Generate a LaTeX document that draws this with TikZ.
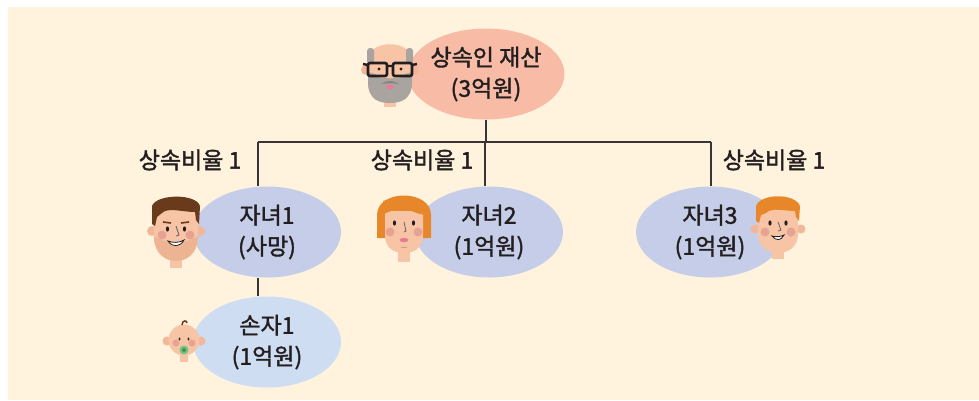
\documentclass[tikz,border=0pt]{standalone}
\usepackage{fontspec}
\setmainfont{Noto Sans CJK KR}[FakeBold=1.6]
\usetikzlibrary{shapes.geometric}

\definecolor{paper}{HTML}{FFF3DE}
\definecolor{rootfill}{HTML}{F7BBA6}
\definecolor{kidfill}{HTML}{C5CDE8}
\definecolor{grandfill}{HTML}{CEDDF1}
\definecolor{ink}{HTML}{231F20}
\definecolor{skin}{HTML}{F7C4A5}
\definecolor{earskin}{HTML}{F2B699}
\definecolor{cheek}{HTML}{E6A393}
\definecolor{stubble}{HTML}{EDB494}
\definecolor{brownhair}{HTML}{6A3A1C}
\definecolor{orangehair}{HTML}{E8862A}
\definecolor{grayhair}{HTML}{A9A4A0}
\definecolor{lip}{HTML}{EC7A92}
\definecolor{soother}{HTML}{6FC47F}

\begin{document}
\begin{tikzpicture}[x=1pt,y=-1pt,
    bubble/.style={ellipse, minimum width=148pt, minimum height=91pt, inner sep=0pt,
        align=center, text=ink, font=\fontsize{23}{31}\selectfont},
    share/.style={text=ink, font=\fontsize{23}{25}\selectfont},
    link/.style={draw=ink!90, line width=1.2pt}]
    \useasboundingbox (0,0) rectangle (979,400);
    \fill[paper] (8,7) rectangle (979,400);

    % family members
    \node[bubble, fill=rootfill] (root) at (486,74) {상속인 재산\\(3억원)};
    \node[bubble, fill=kidfill] (ch1) at (267,232) {자녀1\\(사망)};
    \node[bubble, fill=kidfill] (ch2) at (489,232) {자녀2\\(1억원)};
    \node[bubble, fill=kidfill] (ch3) at (710,232) {자녀3\\(1억원)};
    \node[bubble, fill=grandfill] (gc1) at (267,342) {손자1\\(1억원)};

    \node[share] (r1) at (190,160) {상속비율 1};
    \node[share] (r2) at (422,160) {상속비율 1};
    \node[share] (r3) at (774,160) {상속비율 1};

    % tree lines
    \coordinate (bus) at (486,142);
    \coordinate (d1) at (258,142);
    \coordinate (d2) at (485,142);
    \coordinate (d3) at (711,142);
    \draw[link] (root.south) -- (root.south |- bus);
    \draw[link] (d1) -- (d3);
    \draw[link] (d1) -- (d1 |- ch1.north);
    \draw[link] (d2) -- (d2 |- ch2.north);
    \draw[link] (d3) -- (d3 |- ch3.north);
    \draw[link] (d1 |- ch1.south) -- (d1 |- gc1.north);

    % grandfather
    \begin{scope}[shift={(390,72)}]
        \fill[skin] (-6,24) rectangle (6,35);
        \fill[earskin] (-24,-2) circle (5); \fill[earskin] (24,-2) circle (5);
        \fill[skin] (-22,0) -- (-22,-12) .. controls (-22,-33) and (22,-33) .. (22,-12) -- (22,10)
            .. controls (22,28) and (10,31) .. (0,31) .. controls (-10,31) and (-22,28) .. (-22,10) -- cycle;
        \fill[grayhair, rounded corners=3pt] (-23,-24) rectangle (-16,-8);
        \fill[grayhair, rounded corners=3pt] (16,-24) rectangle (23,-8);
        \fill[grayhair] (-22,0) -- (-22,10) .. controls (-22,28) and (-10,31) .. (0,31)
            .. controls (10,31) and (22,28) .. (22,10) -- (22,0) -- (15,2)
            .. controls (10,8) and (4,6) .. (0,6) .. controls (-4,6) and (-10,8) .. (-15,2) -- cycle;
        \fill[skin] (-4,2) -- (0,7) -- (4,2) -- cycle;
        \fill[lip] (0,15) ellipse (4 and 2);
        \fill[grayhair!80!black] (-9,12) .. controls (-4,8) and (4,8) .. (9,12) .. controls (4,11) and (-4,11) .. cycle;
        \fill[ink] (-11,-3) circle (1.6); \fill[ink] (11,-3) circle (1.6);
        \draw[ink, line width=2.6pt, rounded corners=2pt] (-22,-9) rectangle (-3,4);
        \draw[ink, line width=2.6pt, rounded corners=2pt] (3,-9) rectangle (22,4);
        \draw[ink, line width=2.4pt] (-3,-6) -- (3,-6) (-22,-7) -- (-27,-8) (22,-7) -- (27,-8);
    \end{scope}

    % first child
    \begin{scope}[shift={(176,228)}]
        \fill[skin] (-6,22) rectangle (6,40);
        \fill[earskin] (-24,3) circle (5); \fill[earskin] (24,3) circle (5);
        \fill[skin] (-22,-14) -- (-22,10) .. controls (-22,26) and (-10,33) .. (0,33)
            .. controls (10,33) and (22,26) .. (22,10) -- (22,-14) .. controls (22,-30) and (-22,-30) .. cycle;
        \fill[stubble] (-22,8) .. controls (-21,26) and (-10,33) .. (0,33) .. controls (10,33) and (21,26) .. (22,8)
            .. controls (12,16) and (-12,16) .. cycle;
        \fill[brownhair] (-24,-4) -- (-24,-22) .. controls (-20,-34) and (20,-35) .. (24,-22) -- (23,-4)
            -- (20,-8) -- (19,-16) .. controls (6,-16) and (-8,-21) .. (-14,-15) -- (-19,-11) -- (-21,-2) -- cycle;
        \draw[brownhair, line width=1.6pt] (-13,-6) -- (-5,-5) (5,-5) -- (13,-6);
        \fill[cheek] (-14,7) circle (4.5); \fill[cheek] (14,7) circle (4.5);
        \fill[ink] (-8.5,1) ellipse (1.6 and 2.6); \fill[ink] (8.5,1) ellipse (1.6 and 2.6);
        \draw[ink!70, line width=0.8pt] (0,-2) -- (3,7) -- (0,8);
        \fill[white, draw=ink, line width=0.8pt] (-8,13) .. controls (-3,20) and (4,19) .. (8,12)
            .. controls (3,15) and (-3,15) .. cycle;
    \end{scope}

    % second child
    \begin{scope}[shift={(404,225)}]
        \fill[orangehair] (-27,-10) .. controls (-27,-36) and (27,-36) .. (27,-10) -- (27,13) -- (-27,13) -- cycle;
        \fill[skin] (-6,20) rectangle (6,37);
        \fill[skin] (-19,-14) -- (-19,10) .. controls (-19,24) and (-9,28) .. (0,28)
            .. controls (9,28) and (19,24) .. (19,10) -- (19,-14) -- cycle;
        \fill[orangehair] (-21,-24) .. controls (-10,-28) and (10,-28) .. (21,-22) -- (21,-10)
            .. controls (10,-12) and (2,-16) .. (-3,-21) .. controls (-8,-16) and (-14,-13) .. (-21,-11) -- cycle;
        \fill[cheek] (-14,7) circle (4.5); \fill[cheek] (14,7) circle (4.5);
        \fill[ink] (-9.5,-2) ellipse (1.6 and 2.6); \fill[ink] (9.5,-2) ellipse (1.6 and 2.6);
        \draw[ink!70, line width=0.8pt] (0,-3) -- (2,6) -- (0,7);
        \fill[lip] (0,15) ellipse (4.5 and 2.2);
        \draw[earskin!80!black, line width=0.6pt] (-3,22) .. controls (-1,23) and (1,23) .. (3,22);
    \end{scope}

    % third child
    \begin{scope}[shift={(778,226)}]
        \fill[skin] (-6,20) rectangle (6,33);
        \fill[earskin] (-23,3) circle (4.5); \fill[earskin] (23,3) circle (4.5);
        \fill[skin] (-20,-12) -- (-20,8) .. controls (-20,22) and (-9,27) .. (0,27)
            .. controls (9,27) and (20,22) .. (20,8) -- (20,-12) .. controls (20,-28) and (-20,-28) .. cycle;
        \fill[orangehair] (-22,-5) -- (-22,-20) .. controls (-17,-33) and (17,-33) .. (22,-20) -- (21,-5)
            -- (18,-9) -- (17,-15) .. controls (6,-15) and (-6,-19) .. (-12,-13) -- (-17,-11) -- (-19,-3) -- cycle;
        \fill[cheek] (-13,6) circle (4.5); \fill[cheek] (13,6) circle (4.5);
        \fill[ink] (-8,-3) ellipse (1.6 and 2.6); \fill[ink] (8,-3) ellipse (1.6 and 2.6);
        \draw[ink!70, line width=0.8pt] (0,-4) -- (3,4) -- (0,5);
        \fill[white, draw=ink, line width=0.8pt] (-6,10) .. controls (-2,15) and (3,15) .. (6,9)
            .. controls (2,11) and (-2,11) .. cycle;
    \end{scope}

    % grandchild
    \begin{scope}[shift={(184,340)}]
        \fill[skin] (-4,12) rectangle (4,22);
        \fill[earskin] (-17,1) circle (4.5); \fill[earskin] (17,1) circle (4.5);
        \fill[skin] (0,0) circle (15.5);
        \draw[brownhair, line width=1.5pt] (-2,-15) .. controls (-2,-20) and (3,-20) .. (3,-17);
        \fill[cheek] (-8,3) circle (3.5); \fill[cheek] (8,3) circle (3.5);
        \fill[ink] (-4.5,-1) ellipse (1 and 1.6); \fill[ink] (4.5,-1) ellipse (1 and 1.6);
        \fill[soother] (0,10) circle (4.5);
        \fill[soother!70!black] (0,10) circle (2);
    \end{scope}
\end{tikzpicture}
\end{document}
